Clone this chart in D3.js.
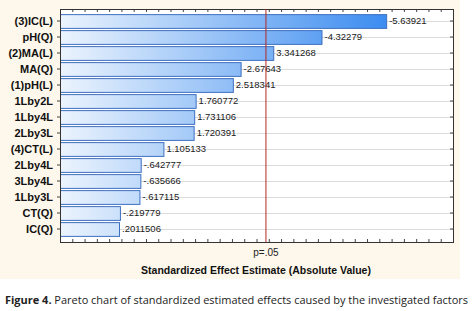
<!DOCTYPE html>
<html>
<head>
<meta charset="utf-8">
<script src="https://cdn.jsdelivr.net/npm/d3@7"></script>
<style>
  body { margin: 0; background: #fff; }
</style>
</head>
<body>
<div id="chart"></div>
<script>
// effects, sorted as in the pareto chart
const factors = ["(3)IC(L)", "pH(Q)", "(2)MA(L)", "MA(Q)", "(1)pH(L)", "1Lby2L", "1Lby4L",
                 "2Lby3L", "(4)CT(L)", "2Lby4L", "3Lby4L", "1Lby3L", "CT(Q)", "IC(Q)"];
const effects = [-5.63921, -4.32279, 3.341268, -2.67643, 2.518341, 1.760772, 1.731106,
                 1.720391, 1.105133, -0.642777, -0.635666, -0.617115, -0.219779, 0.2011506];
const pLimit = 3.182;      // t critical, p=.05
const xDomain = [-1, 7];

const W = 474, H = 311;
const plotL = 60, plotR = 453, plotT = 9, plotB = 242;

const svg = d3.select("#chart").append("svg")
    .attr("width", W)
    .attr("height", H)
    .style("font-family", "Arial, 'Liberation Sans', sans-serif");

// cream panel behind the chart
svg.append("rect")
    .attr("x", 0).attr("y", 0)
    .attr("width", 460).attr("height", 279)
    .attr("fill", "#fdf8eb");

svg.append("rect")
    .attr("x", plotL).attr("y", plotT)
    .attr("width", plotR - plotL).attr("height", plotB - plotT)
    .attr("fill", "#fff");

let grad = svg.append("defs").append("linearGradient")
    .attr("id", "barGrad")
    .attr("gradientUnits", "userSpaceOnUse")
    .attr("x1", plotL).attr("x2", 390).attr("y1", 0).attr("y2", 0);
grad.append("stop").attr("offset", "0%").attr("stop-color", "#ecf4fd");
grad.append("stop").attr("offset", "100%").attr("stop-color", "#3a8bf0");

let xScale = d3.scaleLinear().domain(xDomain).range([plotL, plotR]);
let yScale = d3.scaleBand().domain(factors).range([13, 237]).paddingInner(0.14).paddingOuter(0.07);

let data = factors.map((f, i) => ({ name: f, value: effects[i] }));

// horizontal grid at each row
svg.append("g")
    .selectAll("line")
    .data(factors)
    .join("line")
    .attr("x1", plotL).attr("x2", plotR)
    .attr("y1", d => yScale(d) + yScale.bandwidth() / 2 + 0.5)
    .attr("y2", d => yScale(d) + yScale.bandwidth() / 2 + 0.5)
    .attr("stroke", "#dcdcdc");

// bars
svg.append("g")
    .selectAll("rect")
    .data(data)
    .join("rect")
    .attr("x", plotL + 0.5)
    .attr("y", d => yScale(d.name) + 0.5)
    .attr("width", d => xScale(Math.abs(d.value)) - plotL)
    .attr("height", yScale.bandwidth())
    .attr("fill", "url(#barGrad)")
    .attr("stroke", "#3d6fc0")
    .attr("stroke-width", 1);

let fmt = v => String(v).replace(/^(-?)0\./, "$1.");

svg.append("g")
    .selectAll("text")
    .data(data)
    .join("text")
    .attr("x", d => xScale(Math.abs(d.value)) + 3)
    .attr("y", d => yScale(d.name) + yScale.bandwidth() / 2)
    .attr("dy", "0.35em")
    .style("font-size", "9.5px")
    .attr("fill", "#1a1a1a")
    .text(d => fmt(d.value));

// axes
const quarterTicks = d3.range(xDomain[0], xDomain[1] + 0.001, 0.25);

svg.append("g")
    .attr("transform", "translate(0," + plotB + ")")
    .call(d3.axisTop(xScale).tickValues(quarterTicks).tickSize(3).tickFormat(""))
    .call(g => g.select(".domain").remove())
    .selectAll("line").attr("stroke", "#444");

svg.append("g")
    .attr("transform", "translate(0," + plotT + ")")
    .call(d3.axisBottom(xScale).tickValues(quarterTicks).tickSize(3).tickFormat(""))
    .call(g => g.select(".domain").remove())
    .selectAll("line").attr("stroke", "#444");

svg.append("g")
    .attr("transform", "translate(" + plotL + ",0)")
    .call(d3.axisLeft(yScale).tickSize(3).tickPadding(4))
    .call(g => g.select(".domain").remove())
    .call(g => g.selectAll("line").attr("stroke", "#444"))
    .selectAll("text")
      .style("font-size", "11px")
      .style("font-weight", "bold")
      .attr("fill", "#111");

svg.append("g")
    .attr("transform", "translate(" + plotR + ",0)")
    .call(d3.axisLeft(yScale).tickSize(3).tickFormat(""))
    .call(g => g.select(".domain").remove())
    .selectAll("line").attr("stroke", "#444");

// frame
svg.append("rect")
    .attr("x", plotL + 0.5).attr("y", plotT + 0.5)
    .attr("width", plotR - plotL).attr("height", plotB - plotT)
    .attr("fill", "none")
    .attr("stroke", "#333");

// p=.05 line
svg.append("line")
    .attr("x1", xScale(pLimit) + 0.5).attr("x2", xScale(pLimit) + 0.5)
    .attr("y1", plotT).attr("y2", plotB)
    .attr("stroke", "#b52a24")
    .attr("stroke-width", 1);

svg.append("text")
    .attr("x", xScale(pLimit) + 0.5)
    .attr("y", 256)
    .attr("text-anchor", "middle")
    .style("font-size", "10px")
    .attr("fill", "#222")
    .text("p=.05");

svg.append("text")
    .attr("x", 256)
    .attr("y", 274)
    .attr("text-anchor", "middle")
    .style("font-size", "10.5px")
    .style("font-weight", "bold")
    .attr("fill", "#111")
    .text("Standardized Effect Estimate (Absolute Value)");

// caption
let cap = svg.append("text")
    .attr("x", 5)
    .attr("y", 304)
    .style("font-family", "'Open Sans', 'Noto Sans', sans-serif")
    .style("font-size", "10px")
    .attr("fill", "#222")
    .attr("textLength", 463)
    .attr("lengthAdjust", "spacingAndGlyphs");
cap.append("tspan").style("font-weight", "bold").text("Figure 4.");
cap.append("tspan").text(" Pareto chart of standardized estimated effects caused by the investigated factors");
</script>
</body>
</html>
